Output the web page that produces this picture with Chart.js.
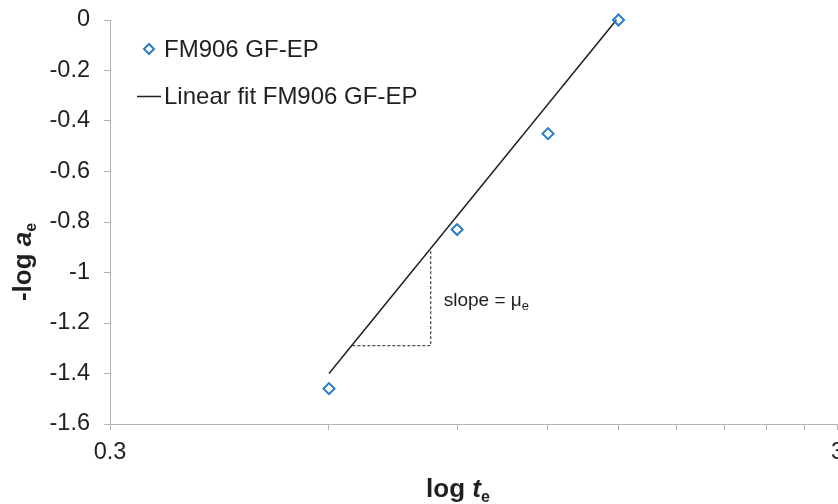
<!DOCTYPE html>
<html>
<head>
<meta charset="utf-8">
<script src="https://cdn.jsdelivr.net/npm/chart.js@4/dist/chart.umd.min.js"></script>
<style>
  html, body { margin: 0; padding: 0; background: #fff; overflow: hidden; }
  #wrap { width: 838px; height: 504px; overflow: hidden; }
</style>
</head>
<body>
<div id="wrap"><canvas id="c" width="845" height="504"></canvas></div>
<script>
// Measured points: log t_e against -log a_e
const seriesName = 'FM906 GF-EP';
const measuredX = [0.6, 0.9, 1.2, 1.5];
const measuredY = [-1.46, -0.83, -0.45, 0];

// Straight fit through the measurements
const fitName = 'Linear fit FM906 GF-EP';
const fitX = [0.6, 1.49];
const fitY = [-1.40, 0];

// Slope triangle under the fit line
const slopeX = [0.646, 0.828, 0.828];
const slopeY = [-1.29, -1.29, -0.911];

// Axis ticks
const xTickValues = [0.3, 0.6, 0.9, 1.2, 1.5, 1.8, 2.1, 2.4, 2.7, 3];
const xTickLabels = ['0.3', '', '', '', '', '', '', '', '', '3'];
const yTickLabels = ['-1.6', '-1.4', '-1.2', '-1', '-0.8', '-0.6', '-0.4', '-0.2', '0'];

const ink = '#231f20';
const axisGrey = '#b3b3b3';
const blue = '#2a7cc9';
const FONT = '"Liberation Sans", Arial, sans-serif';

const pairs = (xs, ys) => xs.map((x, i) => ({ x: x, y: ys[i] }));

// Axis titles, legend and the slope note, drawn with mixed fonts
const annotations = {
  id: 'annotations',
  afterDraw(chart) {
    const ctx = chart.ctx;
    const xs = chart.scales.x, ys = chart.scales.y;
    ctx.save();
    ctx.fillStyle = ink;
    ctx.textBaseline = 'alphabetic';

    const runs = (parts) => {
      // parts: [text, font, dy]
      let w = 0;
      parts.forEach(p => { ctx.font = p[1]; w += ctx.measureText(p[0]).width; });
      return w;
    };
    const drawRuns = (parts, x, y) => {
      parts.forEach(p => {
        ctx.font = p[1];
        ctx.fillText(p[0], x, y + p[2]);
        x += ctx.measureText(p[0]).width;
      });
    };

    // x-axis title
    const xt = [['log ', 'bold 26px ' + FONT, 0], ['t', 'italic bold 26px ' + FONT, 0], ['e', 'bold 16px ' + FONT, 5]];
    const xw = runs(xt);
    drawRuns(xt, 458 - xw / 2, 497);

    // y-axis title (rotated)
    const yt = [['-log ', 'bold 26px ' + FONT, 0], ['a', 'italic bold 26px ' + FONT, 0], ['e', 'bold 16px ' + FONT, 5]];
    const yw = runs(yt);
    ctx.save();
    ctx.translate(31, 262);
    ctx.rotate(-Math.PI / 2);
    drawRuns(yt, -yw / 2, 0);
    ctx.restore();

    // legend
    const ds = chart.data.datasets;
    ctx.font = '24px ' + FONT;
    ctx.textBaseline = 'middle';
    const m = ds[0];
    ctx.strokeStyle = m.borderColor;
    ctx.lineWidth = m.borderWidth;
    ctx.beginPath();
    ctx.moveTo(149 - 5, 49); ctx.lineTo(149, 44); ctx.lineTo(154, 49); ctx.lineTo(149, 54); ctx.closePath();
    ctx.stroke();
    ctx.fillText(m.label, 164, 50);
    const f = ds[1];
    ctx.strokeStyle = f.borderColor;
    ctx.lineWidth = f.borderWidth;
    ctx.beginPath();
    ctx.moveTo(137, 96.5); ctx.lineTo(161, 96.5);
    ctx.stroke();
    ctx.fillText(f.label, 164, 97);

    // slope note beside the triangle
    ctx.textBaseline = 'alphabetic';
    const sx = xs.getPixelForValue(slopeX[2]) + 13;
    const sy = (ys.getPixelForValue(slopeY[0]) + ys.getPixelForValue(slopeY[2])) / 2 + 8;
    drawRuns([['slope = \u03bc', '19px ' + FONT, 0], ['e', '13px ' + FONT, 4]], sx, sy);

    ctx.restore();
  }
};

new Chart(document.getElementById('c'), {
  type: 'scatter',
  data: {
    datasets: [
      {
        label: seriesName,
        data: pairs(measuredX, measuredY),
        pointStyle: 'rectRot',
        pointRadius: 5.5,
        pointHoverRadius: 5.5,
        borderColor: blue,
        backgroundColor: 'rgba(0,0,0,0)',
        borderWidth: 2,
        showLine: false,
        clip: false,
        order: 0
      },
      {
        label: fitName,
        data: pairs(fitX, fitY),
        showLine: true,
        borderColor: ink,
        borderWidth: 1.5,
        pointRadius: 0,
        pointHoverRadius: 0,
        clip: false,
        order: 1
      },
      {
        label: '',
        data: pairs(slopeX, slopeY),
        showLine: true,
        borderColor: ink,
        borderWidth: 1,
        borderDash: [3, 2],
        pointRadius: 0,
        pointHoverRadius: 0,
        clip: false,
        order: 2
      }
    ]
  },
  options: {
    responsive: false,
    animation: false,
    events: [],
    layout: { padding: { top: 20, right: 2, left: 0, bottom: 0 } },
    plugins: { legend: { display: false }, tooltip: { enabled: false } },
    scales: {
      x: {
        type: 'logarithmic',
        min: 0.3,
        max: 3,
        bounds: 'data',
        afterBuildTicks: (s) => { s.ticks = xTickValues.map(v => ({ value: v })); },
        afterFit: (s) => { s.height = 80; s.paddingLeft = 0; s.paddingRight = 0; },
        border: { display: true, color: axisGrey, width: 1 },
        grid: { display: true, drawOnChartArea: false, drawTicks: true, tickLength: 6, color: axisGrey, tickColor: axisGrey },
        ticks: {
          autoSkip: false, maxRotation: 0, minRotation: 0, padding: 8,
          color: ink, font: { family: FONT, size: 23.5 },
          callback: (v, i) => xTickLabels[i]
        },
        title: { display: false }
      },
      y: {
        type: 'linear',
        min: -1.6,
        max: 0,
        afterFit: (s) => { s.width = 110; s.paddingTop = 0; s.paddingBottom = 0; },
        border: { display: true, color: axisGrey, width: 1 },
        grid: { display: true, drawOnChartArea: false, drawTicks: true, tickLength: 6, color: axisGrey, tickColor: axisGrey },
        ticks: {
          stepSize: 0.2, padding: 14,
          color: ink, font: { family: FONT, size: 23.5 },
          callback: (v, i) => yTickLabels[i]
        },
        title: { display: false }
      }
    }
  },
  plugins: [annotations]
});
</script>
</body>
</html>
